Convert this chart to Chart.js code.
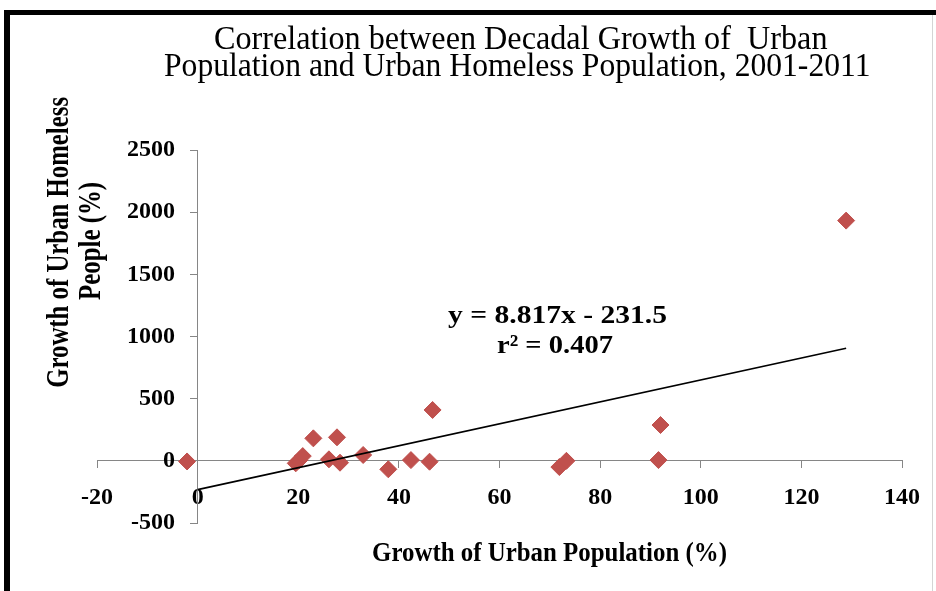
<!DOCTYPE html>
<html>
<head>
<meta charset="utf-8">
<script src="https://cdn.jsdelivr.net/npm/chart.js@4"></script>
<style>
html,body{margin:0;padding:0;background:#fff;}
canvas{display:block;}
</style>
</head>
<body>
<canvas id="c" width="936" height="591"></canvas>
<script>
// ---- data ----
const titleLines = ["Correlation between Decadal Growth of  Urban", "Population and Urban Homeless Population, 2001-2011"];
const xAxisTitle = "Growth of Urban Population (%)";
const yAxisTitleLines = ["Growth of Urban Homeless", "People (%)"];
const equationLines = ["y = 8.817x - 231.5", "r\u00B2 = 0.407"];

const growthUrban    = [-2.1, 19.5, 20.2, 20.9, 23.0, 26.1, 27.7, 28.3, 32.9, 37.9, 42.4, 46.1, 46.7, 71.9, 73.3, 91.6, 92.0, 128.9];
const growthHomeless = [-5,   -20,  5,    38,   181,  12,   189,  -15,  47,   -68,  6,    -7,   409,  -50,  0,    6,    288,  1932];

const trendX = [0, 128.9];
const trendY = [-231.5, 905.0];

const xTickValues = [-20, 0, 20, 40, 60, 80, 100, 120, 140];
const yTickValues = [-500, 0, 500, 1000, 1500, 2000, 2500];

// ---- styles ----
const SERIF = '"Liberation Serif", "Times New Roman", serif';
const AXIS_GREY = '#868686';
const MARKER = '#C0504D';

function fitText(ctx, text, font, x0, x1, baseline) {
  ctx.save();
  ctx.font = font;
  ctx.textAlign = 'left';
  ctx.textBaseline = 'alphabetic';
  const m = ctx.measureText(text);
  const inkW = m.actualBoundingBoxLeft + m.actualBoundingBoxRight;
  const sx = (x1 - x0) / inkW;
  ctx.translate(x0 + m.actualBoundingBoxLeft * sx, baseline);
  ctx.scale(sx, 1);
  ctx.fillText(text, 0, 0);
  ctx.restore();
}
function fitTextUp(ctx, text, font, yBottom, yTop, baselineX) {
  ctx.save();
  ctx.translate(baselineX, yBottom);
  ctx.rotate(-Math.PI / 2);
  fitText(ctx, text, font, 0, yBottom - yTop, 0);
  ctx.restore();
}

const decor = {
  id: 'decor',
  beforeDraw(chart) {
    const ctx = chart.ctx;
    ctx.save();
    ctx.fillStyle = '#fff';
    ctx.fillRect(0, 0, chart.width, chart.height);
    ctx.restore();
  },
  afterDraw(chart) {
    const ctx = chart.ctx;
    ctx.save();
    // frame
    ctx.fillStyle = '#000';
    ctx.fillRect(4, 10, 6, chart.height - 10);
    ctx.fillRect(4, 10, chart.width - 4, 5);
    ctx.fillStyle = '#d4d4d4';
    ctx.fillRect(932, 15, 1, chart.height - 15);

    ctx.fillStyle = '#000';
    // title
    fitText(ctx, titleLines[0], '33px ' + SERIF, 215, 827, 49);
    fitText(ctx, titleLines[1], '33px ' + SERIF, 164, 869, 76);
    // axis titles
    fitText(ctx, xAxisTitle, 'bold 27px ' + SERIF, 373, 726, 561);
    fitTextUp(ctx, yAxisTitleLines[0], 'bold 31px ' + SERIF, 387, 97, 68);
    fitTextUp(ctx, yAxisTitleLines[1], 'bold 31px ' + SERIF, 300, 183, 100);
    // equation
    fitText(ctx, equationLines[0], 'bold 26px ' + SERIF, 448, 667, 322.5);
    fitText(ctx, equationLines[1], 'bold 26px ' + SERIF, 497, 613, 352.5);

    // y tick labels (left of the crossing axis)
    const ys = chart.scales.y;
    ctx.font = 'bold 24px ' + SERIF;
    ctx.textAlign = 'right';
    ctx.textBaseline = 'middle';
    ys.ticks.forEach(t => {
      ctx.fillText(String(t.value), 175, ys.getPixelForValue(t.value));
    });
    ctx.restore();
  }
};

const points = growthUrban.map((x, i) => ({x: x, y: growthHomeless[i]}));
const trend = trendX.map((x, i) => ({x: x, y: trendY[i]}));

new Chart(document.getElementById('c'), {
  type: 'scatter',
  data: {
    datasets: [
      {
        label: 'Trend',
        data: trend,
        showLine: true,
        borderColor: '#000',
        borderWidth: 1.6,
        pointRadius: 0,
        fill: false,
        order: 0
      },
      {
        label: 'Growth',
        data: points,
        pointStyle: 'rectRot',
        pointRadius: 8.5,
        pointBackgroundColor: MARKER,
        pointBorderColor: MARKER,
        pointBorderWidth: 1,
        showLine: false,
        order: 1
      }
    ]
  },
  options: {
    responsive: false,
    animation: false,
    devicePixelRatio: 1,
    layout: { padding: { left: 97, right: 33.5, top: 150, bottom: 68 } },
    plugins: {
      legend: { display: false },
      title: { display: false },
      tooltip: { enabled: false }
    },
    scales: {
      x: {
        type: 'linear',
        position: { y: 0 },
        min: -20, max: 140,
        afterBuildTicks: s => { s.ticks = xTickValues.map(v => ({value: v})); },
        grid: { display: true, drawOnChartArea: false, drawTicks: true, tickLength: 7, color: AXIS_GREY },
        border: { display: true, color: AXIS_GREY, width: 1 },
        ticks: { color: '#000', font: { family: SERIF, size: 24, weight: 'bold' }, padding: 16, maxRotation: 0, autoSkip: false }
      },
      y: {
        type: 'linear',
        position: { x: 0 },
        min: -500, max: 2500,
        afterBuildTicks: s => { s.ticks = yTickValues.map(v => ({value: v})); },
        grid: { display: true, drawOnChartArea: false, drawTicks: true, tickLength: 7, color: AXIS_GREY },
        border: { display: true, color: AXIS_GREY, width: 1 },
        ticks: { display: false }
      }
    }
  },
  plugins: [decor]
});
</script>
</body>
</html>
